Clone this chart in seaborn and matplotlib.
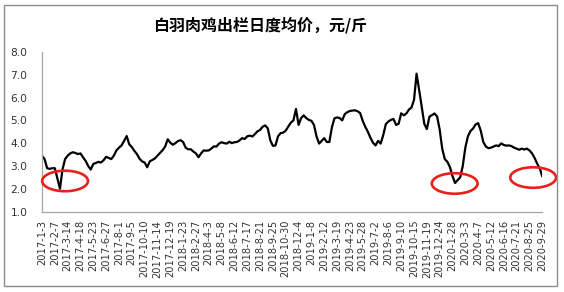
import numpy as np
import pandas as pd
import matplotlib
matplotlib.use("Agg")
import matplotlib.pyplot as plt
import seaborn as sns
from matplotlib.patches import Ellipse, Rectangle

# ---- data (weekly readings, yuan / jin) ----
start_date = "2017-01-03"
prices = [
    3.44, 3.30, 2.90, 2.87, 2.90, 2.90, 2.45, 2.00, 2.85, 3.30,
    3.45, 3.55, 3.60, 3.57, 3.52, 3.55, 3.38, 3.22, 3.00, 2.84,
    3.09, 3.13, 3.18, 3.15, 3.25, 3.40, 3.35, 3.30, 3.45, 3.68,
    3.80, 3.90, 4.10, 4.31, 3.95, 3.83, 3.66, 3.52, 3.32, 3.20,
    3.15, 2.94, 3.20, 3.26, 3.33, 3.45, 3.57, 3.69, 3.85, 4.17,
    4.02, 3.93, 4.00, 4.09, 4.13, 4.05, 3.80, 3.73, 3.73, 3.63,
    3.55, 3.38, 3.55, 3.68, 3.67, 3.68, 3.76, 3.86, 3.85, 3.98,
    4.04, 4.00, 3.98, 4.06, 4.00, 4.04, 4.05, 4.12, 4.22, 4.18,
    4.30, 4.33, 4.29, 4.40, 4.52, 4.58, 4.72, 4.78, 4.65, 4.12,
    3.88, 3.90, 4.30, 4.44, 4.46, 4.55, 4.73, 4.90, 5.00, 5.50,
    4.80, 5.10, 5.22, 5.10, 5.02, 4.98, 4.80, 4.30, 3.98, 4.10,
    4.22, 4.05, 4.05, 4.70, 5.09, 5.13, 5.10, 5.00, 5.27, 5.36,
    5.41, 5.43, 5.44, 5.40, 5.32, 4.98, 4.72, 4.50, 4.24, 4.02,
    3.90, 4.10, 3.98, 4.35, 4.83, 4.95, 5.02, 5.06, 4.80, 4.85,
    5.31, 5.22, 5.30, 5.47, 5.56, 5.90, 7.05, 6.33, 5.60, 4.85,
    4.62, 5.16, 5.23, 5.30, 5.17, 4.60, 3.75, 3.30, 3.18, 2.95,
    2.55, 2.25, 2.38, 2.50, 3.00, 3.80, 4.30, 4.53, 4.64, 4.82,
    4.88, 4.55, 4.05, 3.85, 3.78, 3.80, 3.85, 3.90, 3.87, 3.99,
    3.92, 3.89, 3.90, 3.87, 3.80, 3.76, 3.71, 3.76, 3.72, 3.76,
    3.68, 3.55, 3.35, 3.10, 2.90, 2.53,
]
dates = pd.date_range(start_date, periods=len(prices), freq="7D")

tick_labels = [
    "2017-1-3", "2017-2-7", "2017-3-14", "2017-4-18", "2017-5-23", "2017-6-27",
    "2017-8-1", "2017-9-5", "2017-10-10", "2017-11-14", "2017-12-19",
    "2018-1-23", "2018-2-27", "2018-4-3", "2018-5-8", "2018-6-12", "2018-7-17",
    "2018-8-21", "2018-9-25", "2018-10-30", "2018-12-4",
    "2019-1-8", "2019-2-12", "2019-3-19", "2019-4-23", "2019-5-28", "2019-7-2",
    "2019-8-6", "2019-9-10", "2019-10-15", "2019-11-19", "2019-12-24",
    "2020-1-28", "2020-3-3", "2020-4-7", "2020-5-12", "2020-6-16", "2020-7-21",
    "2020-8-25", "2020-9-29",
]
y_ticks = [1.0, 2.0, 3.0, 4.0, 5.0, 6.0, 7.0, 8.0]

# highlighted lows (center date, center value, width days, height value)
circle_dates = ["2017-03-07", "2020-02-03", "2020-09-04"]
circle_values = [2.34, 2.23, 2.49]

title = "白羽肉鸡出栏日度均价，元/斤"

# ---- plotting ----
sns.set_theme(style="white")
plt.rcParams["font.family"] = ["DejaVu Sans"]

fig = plt.figure(figsize=(5.64, 2.92), dpi=100)
ax = fig.add_axes([42 / 564, 1 - 211.5 / 292, (543 - 42.7) / 564, (211.5 - 52) / 292])

df = pd.DataFrame({"date": dates, "price": prices})
sns.lineplot(data=df, x="date", y="price", ax=ax, color="black", linewidth=1.6)

tick_dates = pd.to_datetime(tick_labels, format="%Y-%m-%d")
ax.set_xlim(dates[0], dates[-1])
ax.set_ylim(1.0, 8.0)
ax.set_xticks(tick_dates)
ax.set_xticklabels(tick_labels, rotation=90, fontsize=7.1, color="#333333")
ax.set_yticks(y_ticks)
ax.set_yticklabels([f"{v:.1f}" for v in y_ticks], fontsize=7.7, color="#333333")
ax.set_xlabel("")
ax.set_ylabel("")

for side in ["top", "right"]:
    ax.spines[side].set_visible(False)
for side in ["left", "bottom"]:
    ax.spines[side].set_color("#a6a6a6")
    ax.spines[side].set_linewidth(0.9)
ax.tick_params(axis="x", direction="out", length=3, width=0.8, color="#a6a6a6", pad=3)
ax.tick_params(axis="y", direction="out", length=2.5, width=0.8, color="#a6a6a6", pad=8)
ax.grid(False)

for d, v in zip(circle_dates, circle_values):
    e = Ellipse((matplotlib.dates.date2num(pd.Timestamp(d)), v), width=125, height=0.9,
                fill=False, edgecolor="#e8201c", linewidth=1.9, clip_on=False, zorder=5)
    ax.add_patch(e)

fig.text(260 / 564, 1 - 25 / 292, title, ha="center", va="center", fontsize=11.5,
         fontweight="bold", family=["Noto Sans CJK SC", "DejaVu Sans"], color="black")

fig.patches.append(Rectangle((4 / 564, 1 - 286 / 292), 553 / 564, 281 / 292,
                             transform=fig.transFigure, fill=False,
                             edgecolor="#8c8c8c", linewidth=1.0))

fig.savefig("out.png", dpi=100, facecolor="white")
